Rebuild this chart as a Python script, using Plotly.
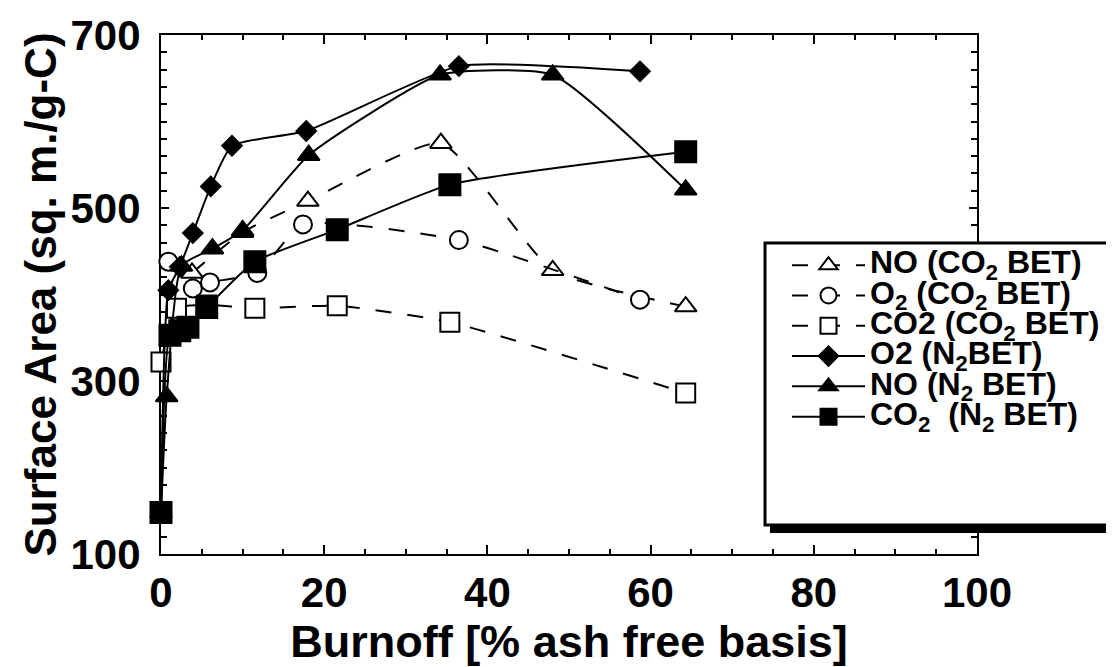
import plotly.graph_objects as go

# ---- data ----
no_co2_x = [3.8, 10.0, 18.0, 34.3, 48.0, 64.3]
no_co2_y = [425, 472, 508, 575, 428, 386]

o2_co2_x = [0.9, 3.9, 6.0, 11.8, 17.4, 36.5, 58.7]
o2_co2_y = [438, 407, 414, 425, 481, 463, 394]

co2_co2_x = [0.0, 1.9, 5.6, 11.5, 21.6, 35.4, 64.3]
co2_co2_y = [322, 384, 388, 384, 387, 368, 286]

o2_n2_x = [0.0, 0.9, 2.3, 3.9, 6.1, 8.7, 17.8, 36.5, 58.7]
o2_n2_y = [148, 405, 432, 471, 525, 572, 589, 664, 658]

no_n2_x = [0.0, 0.7, 2.5, 6.3, 10.0, 18.1, 34.2, 48.0, 64.3]
no_n2_y = [148, 282, 433, 453, 474, 561, 654, 654, 521]

co2_n2_x = [0.0, 1.1, 2.3, 3.3, 5.6, 11.5, 21.6, 35.4, 64.3]
co2_n2_y = [148, 353, 358, 362, 385, 438, 475, 527, 565]

names = [
    "NO (CO<sub>2</sub> BET)",
    "O<sub>2</sub> (CO<sub>2</sub> BET)",
    "CO2 (CO<sub>2</sub> BET)",
    "O2 (N<sub>2</sub>BET)",
    "NO (N<sub>2</sub> BET)",
    "CO<sub>2</sub>  (N<sub>2</sub> BET)",
]

x_ticks = [0, 20, 40, 60, 80, 100]
y_ticks = [100, 300, 500, 700]

FONT = "Liberation Sans, Arial, Helvetica, sans-serif"

series = [
    (no_co2_x, no_co2_y, names[0], "triangle-up", "white", "dash", 19),
    (o2_co2_x, o2_co2_y, names[1], "circle", "white", "dash", 18),
    (co2_co2_x, co2_co2_y, names[2], "square", "white", "dash", 19),
    (o2_n2_x, o2_n2_y, names[3], "diamond", "black", "solid", 15),
    (no_n2_x, no_n2_y, names[4], "triangle-up", "black", "solid", 19),
    (co2_n2_x, co2_n2_y, names[5], "square", "black", "solid", 21),
]

fig = go.Figure()
for xs, ys, nm, sym, fill, dash, size in series:
    fig.add_trace(go.Scatter(
        x=xs, y=ys, name='<span style="font-size:32px">' + nm + '</span>',
        mode="lines+markers",
        line=dict(color="black", width=2, shape="spline", smoothing=0.5,
                  dash="16px,16px" if dash == "dash" else "solid"),
        marker=dict(symbol=sym, size=size, color=fill,
                    line=dict(color="black", width=2)),
        cliponaxis=False,
    ))

# screen-pixel -> paper helpers (plot area: x 161..977, y 35..554 on screen)
def px2x(px):
    return (px - 161) / 816.0

def py2y(py):
    return (554 - py) / 519.0

shapes = [
    dict(type="rect", xref="paper", yref="paper",
         x0=px2x(770), x1=px2x(1135), y0=py2y(533), y1=py2y(250),
         fillcolor="black", line=dict(width=0), layer="above"),
    dict(type="rect", xref="paper", yref="paper",
         x0=px2x(765), x1=px2x(1130), y0=py2y(525), y1=py2y(243),
         fillcolor="white", line=dict(color="black", width=3), layer="above"),
]

# page body has an 8px margin, so the figure is 8px smaller on each axis
fig.update_layout(
    width=1106, height=659, autosize=False,
    margin=dict(l=153, r=137, t=27, b=113, autoexpand=False),
    paper_bgcolor="white", plot_bgcolor="white",
    font=dict(family=FONT, color="black"),
    showlegend=True,
    legend=dict(
        x=px2x(787), y=py2y(245), xanchor="left", yanchor="top",
        bgcolor="rgba(0,0,0,0)", borderwidth=0,
        font=dict(family=FONT, size=21, color="black", weight="bold"),
        itemwidth=73, tracegroupgap=0,
    ),
    shapes=shapes,
    xaxis=dict(
        range=[0, 100], tickvals=x_ticks, automargin=False,
        showline=True, linewidth=2, linecolor="black", mirror="ticks",
        ticks="inside", ticklen=9, tickwidth=2, tickcolor="black",
        minor=dict(ticks="inside", dtick=5, ticklen=5, tickwidth=2, tickcolor="black"),
        showgrid=False, zeroline=False,
        tickfont=dict(family=FONT, size=42, color="black", weight="bold"),
        ticklabelstandoff=1,
        title=dict(text="Burnoff [% ash free basis]", standoff=20,
                   font=dict(family=FONT, size=45, color="black", weight="bold")),
        layer="below traces",
    ),
    yaxis=dict(
        range=[100, 700], tickvals=y_ticks, automargin=False,
        showline=True, linewidth=2, linecolor="black", mirror="ticks",
        ticks="inside", ticklen=8, tickwidth=2, tickcolor="black",
        minor=dict(ticks="inside", dtick=20, ticklen=6, tickwidth=2, tickcolor="black"),
        showgrid=False, zeroline=False,
        tickfont=dict(family=FONT, size=42, color="black", weight="bold"),
        ticklabelstandoff=10,
        title=dict(text="Surface Area (sq. m./g-C)", standoff=0,
                   font=dict(family=FONT, size=44, color="black", weight="bold")),
        layer="below traces",
    ),
)

fig.write_html("out.html")
